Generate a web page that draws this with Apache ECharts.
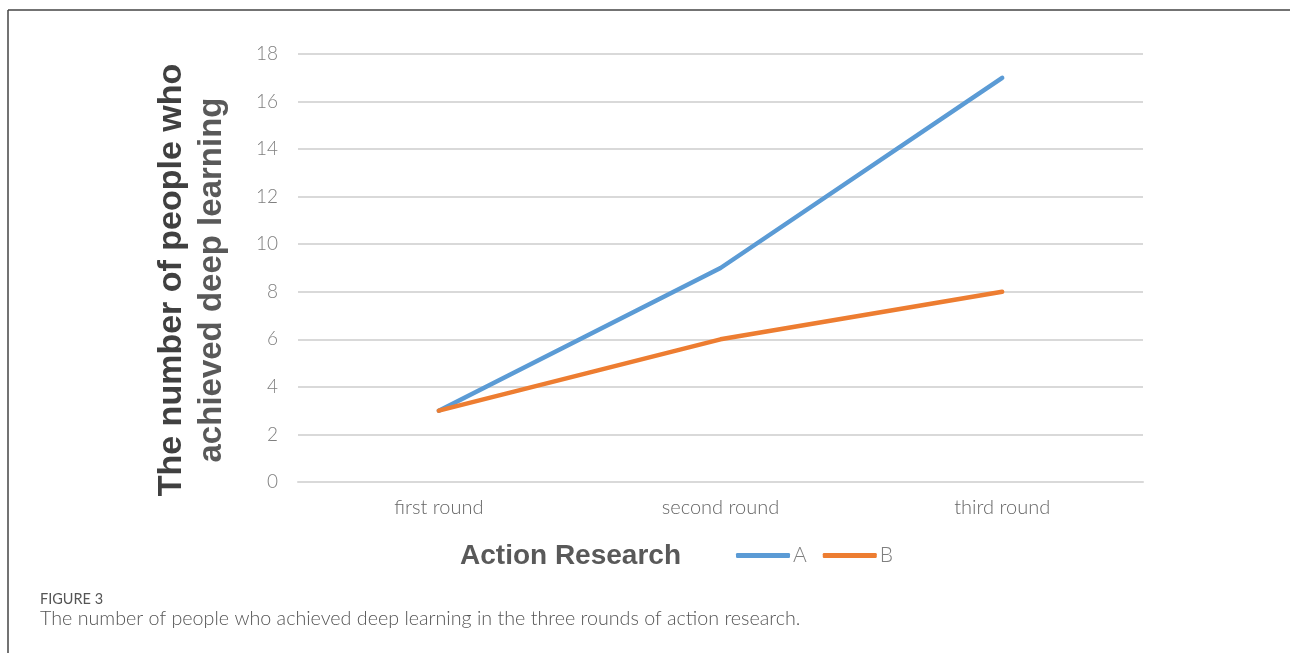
<!DOCTYPE html>
<html>
<head>
<meta charset="utf-8">
<script src="https://cdn.jsdelivr.net/npm/echarts@6/dist/echarts.min.js"></script>
<style>
html,body{margin:0;padding:0;background:#fff;}
#chart{width:1290px;height:653px;}
</style>
</head>
<body>
<div id="chart"></div>
<script>
const categories = ['first round', 'second round', 'third round'];
const seriesA = [3, 9, 17];
const seriesB = [3, 6, 8];
const yTicks = { min: 0, max: 18, interval: 2 };

const chart = echarts.init(document.getElementById('chart'));
chart.setOption({
  animation: false,
  backgroundColor: '#ffffff',
  grid: { left: 298, right: 147, top: 54, bottom: 171 },
  legend: {
    left: 731, top: 540,
    itemWidth: 54, itemHeight: 5, itemGap: 16,
    icon: 'roundRect',
    textStyle: { fontFamily: 'Lato', fontWeight: 300, fontSize: 21, color: '#7f7f7f', padding: [0,0,0,-2] },
    data: ['A', 'B']
  },
  xAxis: {
    type: 'category',
    data: categories,
    boundaryGap: true,
    axisLine: { show: true, lineStyle: { color: '#d9d9d9', width: 2 } },
    axisTick: { show: false },
    axisLabel: { fontFamily: 'Lato', fontWeight: 300, fontSize: 20, color: '#666666', margin: 16 },
    name: 'Action Research',
    nameLocation: 'middle',
    nameGap: 60,
    nameTextStyle: { fontFamily: 'Liberation Sans', fontWeight: 'bold', fontSize: 28, color: '#595959', padding: [0, 0, 0, -300] }
  },
  yAxis: {
    type: 'value',
    min: yTicks.min, max: yTicks.max, interval: yTicks.interval,
    axisLine: { show: false },
    axisTick: { show: false },
    splitLine: { lineStyle: { color: '#d9d9d9', width: 2 } },
    axisLabel: { fontFamily: 'Lato', fontWeight: 300, fontSize: 19, color: '#7f7f7f', margin: 20 },
    name: '{a|The number of people who}\n{b|achieved deep learning}',
    nameLocation: 'middle',
    nameRotate: 90,
    nameGap: 66,
    nameTextStyle: {
      padding: [0, 24, 0, 0],
      rich: {
        a: { fontFamily: 'Liberation Sans', fontWeight: 'bold', fontSize: 34, color: '#404040', lineHeight: 40 },
        b: { fontFamily: 'Liberation Sans', fontWeight: 'bold', fontSize: 33, color: '#595959', lineHeight: 40 }
      }
    }
  },
  series: [
    { name: 'A', type: 'line', data: seriesA, symbol: 'none', lineStyle: { color: '#5b9bd5', width: 4.5, cap: 'round' }, itemStyle: { color: '#5b9bd5' } },
    { name: 'B', type: 'line', data: seriesB, symbol: 'none', lineStyle: { color: '#ed7d31', width: 4.5, cap: 'round' }, itemStyle: { color: '#ed7d31' } }
  ],
  graphic: [
    { type: 'line', shape: { x1: 8, y1: 10, x2: 1290, y2: 10 }, style: { stroke: '#444444', lineWidth: 1.5 } },
    { type: 'line', shape: { x1: 8, y1: 10, x2: 8, y2: 653 }, style: { stroke: '#444444', lineWidth: 1.5 } },
    { type: 'text', left: 40, top: 592, style: { text: 'FIGURE 3', fontFamily: 'Lato', fontSize: 14.5, fill: '#555555' } },
    { type: 'text', left: 40, top: 609, style: { text: 'The number of people who achieved deep learning in the three rounds of action research.', fontFamily: 'Lato', fontWeight: 300, fontSize: 19.7, fill: '#555555' } }
  ]
});
</script>
</body>
</html>
